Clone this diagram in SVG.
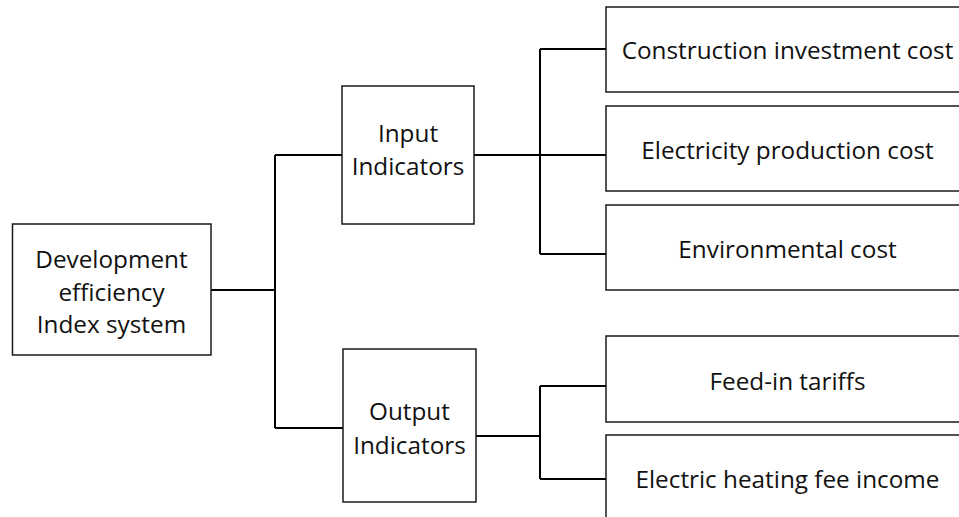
<svg xmlns="http://www.w3.org/2000/svg" width="959" height="517" viewBox="0 0 959 517">
<style>
.box{fill:#ffffff;stroke:#1a1a1a;stroke-width:1.5}
.t{font-family:"Open Sans","Liberation Sans",sans-serif;font-size:24.3px;fill:#111111;text-anchor:middle;dominant-baseline:central}
.c{fill:none;stroke:#000000;stroke-width:2}
</style>
<rect width="959" height="517" fill="#ffffff"/>
<g id="connectors">
<path class="c" d="M211,290 H275 M275,155 V428 M275,155 H342 M275,428 H343"/>
<path class="c" d="M474,155 H606 M540,49 V254 M540,49 H606 M540,254 H606"/>
<path class="c" d="M476,436 H540 M540,386 V479 M540,386 H606 M540,479 H606"/>
</g>
<g id="root">
<rect class="box" x="12.5" y="224" width="198.5" height="131"/>
<text class="t" x="111.5" y="258">Development</text>
<text class="t" x="111.5" y="291">efficiency</text>
<text class="t" x="111.5" y="323">Index system</text>
</g>
<g id="input">
<rect class="box" x="342" y="86" width="132" height="138"/>
<text class="t" x="408" y="132">Input</text>
<text class="t" x="408" y="165">Indicators</text>
</g>
<g id="output">
<rect class="box" x="343" y="349" width="133" height="153"/>
<text class="t" x="409.5" y="410">Output</text>
<text class="t" x="409.5" y="444">Indicators</text>
</g>
<g id="construction">
<rect class="box" x="606" y="7" width="363" height="85"/>
<text class="t" x="787.5" y="49">Construction investment cost</text>
</g>
<g id="electricity">
<rect class="box" x="606" y="106" width="363" height="85"/>
<text class="t" x="787.5" y="149">Electricity production cost</text>
</g>
<g id="environmental">
<rect class="box" x="606" y="205" width="363" height="85"/>
<text class="t" x="787.5" y="248">Environmental cost</text>
</g>
<g id="feedin">
<rect class="box" x="606" y="336" width="363" height="86"/>
<text class="t" x="787.5" y="380">Feed-in tariffs</text>
</g>
<g id="heating">
<rect class="box" x="606" y="435" width="363" height="90"/>
<text class="t" x="787.5" y="478">Electric heating fee income</text>
</g>
</svg>
